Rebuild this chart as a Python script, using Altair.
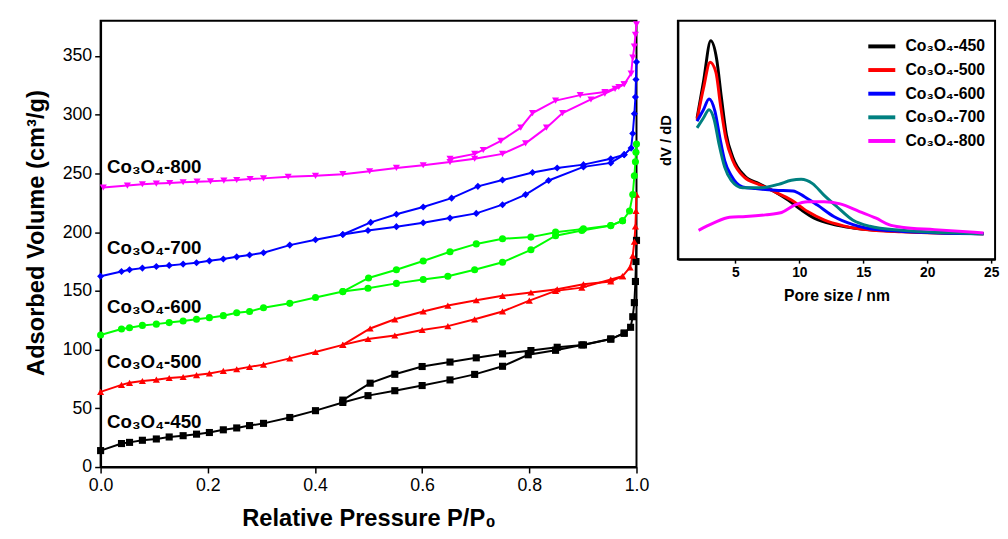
import altair as alt
import pandas as pd

SAMPLES = ["Co₃O₄-450", "Co₃O₄-500", "Co₃O₄-600", "Co₃O₄-700", "Co₃O₄-800"]
MAIN_COLORS = ["#000000", "#FF0000", "#00FF00", "#0000FF", "#FF00FF"]
SHAPES = ["square", "triangle-up", "circle", "diamond", "triangle-down"]
PSD_COLORS = ["#000000", "#FF0000", "#0000FF", "#008080", "#FF00FF"]

# ---- isotherms (P/P0, cm3/g) ----
ads_450_p = [0.0, 0.039, 0.054, 0.078, 0.104, 0.128, 0.154, 0.179, 0.203, 0.229, 0.254, 0.278, 0.304, 0.353, 0.401, 0.452, 0.499, 0.549, 0.6, 0.652, 0.698, 0.75, 0.798, 0.849, 0.898, 0.952, 0.977, 0.989, 0.993, 0.996, 0.998, 0.999, 1.0]
ads_450_v = [14, 20, 21, 22.8, 23.9, 25.6, 26.7, 28, 29.4, 31.7, 33.3, 35.3, 37.2, 42.2, 48, 55, 60.8, 65, 69.4, 74.2, 78.9, 85.8, 95.6, 99.4, 104, 109, 114, 119, 128, 140, 158, 175, 193]
des_450_p = [0.977, 0.952, 0.901, 0.852, 0.803, 0.75, 0.701, 0.652, 0.6, 0.549, 0.503, 0.452]
des_450_v = [114, 109, 104, 102, 99.2, 96.4, 93, 89.4, 85.6, 79, 71.4, 57]

ads_500_p = [0.0, 0.039, 0.054, 0.078, 0.104, 0.128, 0.154, 0.179, 0.203, 0.229, 0.254, 0.278, 0.304, 0.353, 0.401, 0.452, 0.499, 0.549, 0.6, 0.648, 0.698, 0.75, 0.8, 0.849, 0.898, 0.952, 0.974, 0.988, 0.993, 0.996, 0.998, 0.999, 1.0]
ads_500_v = [64, 70, 71.7, 73.3, 74.4, 75.8, 76.7, 78.3, 79.7, 81.9, 83.3, 85.3, 87.2, 92.5, 98, 104, 109, 112, 116.7, 120, 125.8, 132.5, 141.7, 150, 152.8, 159.7, 162.5, 170, 180, 192, 205, 218, 232]
des_500_p = [0.974, 0.952, 0.901, 0.852, 0.803, 0.75, 0.701, 0.648, 0.602, 0.549, 0.503, 0.452]
des_500_v = [162.5, 158, 155.6, 151.4, 148.6, 145.8, 142, 137.5, 132.5, 125.8, 118, 104]

ads_600_p = [0.0, 0.039, 0.054, 0.078, 0.104, 0.128, 0.154, 0.179, 0.203, 0.229, 0.254, 0.278, 0.304, 0.353, 0.401, 0.452, 0.499, 0.552, 0.602, 0.648, 0.698, 0.75, 0.803, 0.849, 0.898, 0.952, 0.974, 0.987, 0.993, 0.996, 0.998, 0.999, 1.0]
ads_600_v = [112.5, 117.5, 118.6, 120.6, 121.7, 123, 124.4, 125.8, 127.2, 128.9, 131.4, 132.5, 135.6, 139.4, 144.4, 149.4, 152.2, 156.4, 159.7, 162.5, 168, 174.4, 185, 197, 201.4, 205.6, 209.7, 218, 232, 248, 260, 268, 275]
des_600_p = [0.974, 0.952, 0.901, 0.849, 0.803, 0.75, 0.701, 0.652, 0.602, 0.552, 0.5, 0.452]
des_600_v = [209.7, 205.6, 202.8, 200, 195.8, 194.4, 190, 183.3, 175.5, 168, 161, 149.4]

ads_700_p = [0.0, 0.039, 0.054, 0.078, 0.104, 0.128, 0.154, 0.179, 0.203, 0.229, 0.254, 0.278, 0.304, 0.353, 0.401, 0.452, 0.499, 0.552, 0.602, 0.652, 0.701, 0.75, 0.793, 0.836, 0.901, 0.952, 0.977, 0.99, 0.993, 0.996, 0.998, 0.999, 1.0]
ads_700_v = [162.5, 166.5, 168, 169.4, 170.8, 171.7, 172.8, 174, 175.6, 177.2, 179, 180.6, 182.5, 189, 193.6, 198, 201.4, 204.7, 208, 212, 216, 223.4, 232, 244, 255.6, 259, 266, 271.6, 284, 300.8, 315, 330, 345]
des_700_p = [0.977, 0.952, 0.901, 0.852, 0.806, 0.75, 0.704, 0.655, 0.602, 0.552, 0.504, 0.452]
des_700_v = [266, 262.5, 257.5, 254.7, 250.8, 244.4, 239, 229, 221.4, 215.3, 208.3, 198]

ads_800_p = [0.005, 0.05, 0.078, 0.104, 0.129, 0.154, 0.18, 0.205, 0.23, 0.254, 0.279, 0.304, 0.35, 0.401, 0.452, 0.502, 0.552, 0.602, 0.652, 0.698, 0.75, 0.793, 0.832, 0.862, 0.915, 0.941, 0.96, 0.977, 0.99, 0.993, 0.996, 0.998, 1.0]
ads_800_v = [238, 239.7, 240.8, 241.4, 241.9, 242.5, 243, 243.3, 243.9, 244.4, 245.3, 245.8, 247.2, 248, 249.4, 251.9, 254.7, 257, 259.7, 262.5, 266.7, 275.6, 289, 301.4, 313, 318, 322, 326, 335, 348.6, 358, 368, 377]
des_800_p = [0.977, 0.967, 0.941, 0.895, 0.849, 0.806, 0.784, 0.747, 0.714, 0.698, 0.652]
des_800_v = [326, 323.6, 319.4, 316.7, 312, 301.4, 289, 277.8, 270, 266.7, 262.5]

label_p = [0.012, 0.012, 0.012, 0.012, 0.012]
label_v = [38, 89, 136, 186.5, 255]

# ---- pore size distribution (nm, normalised dV/dD) ----
psd_450_x = [2.0, 2.5, 3.07, 3.53, 3.91, 4.29, 4.8, 5.69, 6.83, 8.1, 9.12, 10.14, 11.16, 12.69, 14.2, 16, 18, 20, 22, 24.4]
psd_450_y = [0.592, 0.744, 0.916, 0.84, 0.675, 0.523, 0.427, 0.351, 0.317, 0.282, 0.248, 0.207, 0.172, 0.145, 0.131, 0.122, 0.116, 0.112, 0.109, 0.107]
psd_500_x = [2.0, 2.5, 3.02, 3.47, 3.83, 4.24, 4.8, 5.69, 6.83, 8.1, 9.37, 10.65, 11.92, 13.45, 14.7, 16, 18, 20, 22, 24.4]
psd_500_y = [0.585, 0.716, 0.826, 0.785, 0.647, 0.51, 0.413, 0.344, 0.314, 0.282, 0.248, 0.2, 0.165, 0.14, 0.127, 0.12, 0.115, 0.111, 0.109, 0.107]
psd_600_x = [2.0, 2.5, 2.94, 3.4, 3.78, 4.16, 4.67, 5.56, 6.58, 8.1, 9.5, 10.4, 11.41, 12.69, 14.2, 15.2, 17, 19, 21, 24.4]
psd_600_y = [0.579, 0.627, 0.672, 0.62, 0.51, 0.413, 0.351, 0.303, 0.296, 0.289, 0.286, 0.262, 0.227, 0.179, 0.145, 0.131, 0.12, 0.114, 0.11, 0.107]
psd_700_x = [2.0, 2.5, 2.94, 3.34, 3.72, 4.16, 4.67, 5.56, 7.08, 8.36, 9.37, 10.14, 11.03, 11.92, 12.94, 14.2, 15.5, 18, 21, 24.4]
psd_700_y = [0.551, 0.592, 0.627, 0.585, 0.482, 0.386, 0.331, 0.3, 0.3, 0.314, 0.331, 0.335, 0.317, 0.269, 0.22, 0.163, 0.138, 0.121, 0.112, 0.107]
psd_800_x = [2.12, 3.27, 4.54, 5.82, 7.34, 8.61, 9.63, 10.65, 11.92, 13.19, 14.7, 16.0, 17.0, 18.0, 20.57, 24.4]
psd_800_y = [0.121, 0.151, 0.176, 0.179, 0.186, 0.196, 0.227, 0.241, 0.241, 0.232, 0.2, 0.172, 0.145, 0.134, 0.124, 0.11]

iso = [
    (ads_450_p, ads_450_v, des_450_p, des_450_v),
    (ads_500_p, ads_500_v, des_500_p, des_500_v),
    (ads_600_p, ads_600_v, des_600_p, des_600_v),
    (ads_700_p, ads_700_v, des_700_p, des_700_v),
    (ads_800_p, ads_800_v, des_800_p, des_800_v),
]
rows = []
for s, (ap, av, dp, dv) in zip(SAMPLES, iso):
    for i, (p, v) in enumerate(zip(ap, av)):
        rows.append({"sample": s, "branch": s + "-ads", "idx": i, "p": p, "v": v})
    for i, (p, v) in enumerate(zip(dp, dv)):
        rows.append({"sample": s, "branch": s + "-des", "idx": i, "p": p, "v": v})
iso_df = pd.DataFrame(rows)
lab_df = pd.DataFrame({"sample": SAMPLES, "p": label_p, "v": label_v})

psd = [(psd_450_x, psd_450_y), (psd_500_x, psd_500_y), (psd_600_x, psd_600_y),
       (psd_700_x, psd_700_y), (psd_800_x, psd_800_y)]
prow = []
for s, (xs, ys) in zip(SAMPLES, psd):
    for i, (x, y) in enumerate(zip(xs, ys)):
        prow.append({"series": s, "idx": i, "d": x, "dvdd": y})
psd_df = pd.DataFrame(prow)

FONT = "Liberation Sans"

xmain = alt.X("p:Q", scale=alt.Scale(domain=[0, 1], nice=False, zero=False),
              axis=alt.Axis(values=[0, 0.2, 0.4, 0.6, 0.8, 1.0], format=".1f",
                            title="Relative Pressure P/P₀", titleFontSize=24,
                            titleFont=FONT, titleFontWeight="bold", titlePadding=12,
                            labelFontSize=18, labelFont=FONT, labelPadding=4,
                            labelFlush=False, tickSize=6, grid=False))
ymain = alt.Y("v:Q", scale=alt.Scale(domain=[0, 380], nice=False),
              axis=alt.Axis(values=[0, 50, 100, 150, 200, 250, 300, 350],
                            title="Adsorbed Volume (cm³/g)", titleFontSize=24,
                            titleFont=FONT, titleFontWeight="bold", titlePadding=14,
                            titleY=215,
                            labelFontSize=18, labelFont=FONT, labelPadding=3,
                            labelFlush=False, tickSize=6, grid=False))
cmain = alt.Color("sample:N", scale=alt.Scale(domain=SAMPLES, range=MAIN_COLORS), legend=None)
smain = alt.Shape("sample:N", scale=alt.Scale(domain=SAMPLES, range=SHAPES), legend=None)

lines = alt.Chart(iso_df).mark_line(strokeWidth=2).encode(
    x=xmain, y=ymain, color=cmain, detail="branch:N", order="idx:Q")
points = alt.Chart(iso_df).mark_point(filled=True, size=52, opacity=1).encode(
    x=xmain, y=ymain, color=cmain, shape=smain)
labels = alt.Chart(lab_df).mark_text(align="left", baseline="middle", fontSize=19,
                                     fontWeight="bold", font=FONT, color="black").encode(
    x="p:Q", y="v:Q", text="sample:N")

main = alt.layer(lines, points, labels).properties(width=544, height=453)

inset = alt.Chart(psd_df).mark_line(strokeWidth=3, interpolate="monotone").encode(
    x=alt.X("d:Q", scale=alt.Scale(domain=[0.5, 25.3], nice=False, zero=False),
            axis=alt.Axis(values=[5, 10, 15, 20, 25], title="Pore size / nm",
                          titleFontSize=16, titleFont=FONT, titleFontWeight="bold",
                          titlePadding=8, labelFontSize=14, labelFont=FONT,
                          labelFontWeight="bold", labelPadding=3, labelFlush=False,
                          tickSize=4, grid=False)),
    y=alt.Y("dvdd:Q", scale=alt.Scale(domain=[0, 1], nice=False),
            axis=alt.Axis(title="dV / dD", titleFontSize=15, titleFont=FONT,
                          titleFontWeight="bold", titlePadding=4, labels=False,
                          ticks=False, grid=False)),
    color=alt.Color("series:N", scale=alt.Scale(domain=SAMPLES, range=PSD_COLORS),
                    legend=alt.Legend(title=None, orient="top-right", offset=10,
                                      symbolType="stroke", symbolStrokeWidth=4,
                                      symbolSize=750, labelFontSize=16, labelFont=FONT,
                                      labelFontWeight="bold", rowPadding=0, padding=0,
                                      labelOffset=8, labelColor="black")),
    order="idx:Q",
).properties(width=322, height=242)

chart = alt.hconcat(main, inset, spacing=8).resolve_scale(
    color="independent", shape="independent"
).properties(
    padding={"left": 15, "top": 7, "right": 0, "bottom": 0}
).configure_view(
    stroke="black", strokeWidth=2
).configure_axis(
    domainColor="black", domainWidth=2, tickColor="black", tickWidth=1.5,
    labelColor="black", titleColor="black"
)

chart.save("out.html", embed_options={"renderer": "svg", "actions": False})
